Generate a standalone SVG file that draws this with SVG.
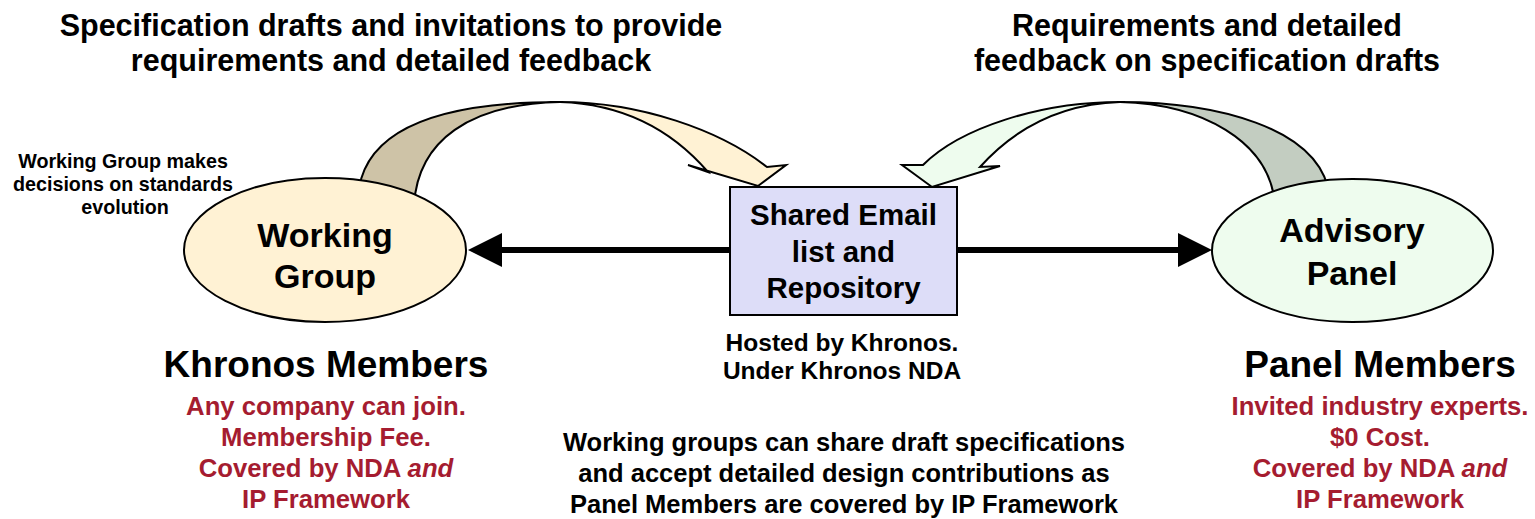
<svg xmlns="http://www.w3.org/2000/svg" width="1535" height="519" viewBox="0 0 1535 519">
<defs>
<style>
text{font-family:"Liberation Sans",Arial,sans-serif;font-weight:bold;text-anchor:middle;fill:#000}
.title{font-size:30.5px}
.note{font-size:19.7px}
.node{font-size:34px}
.box{font-size:29.5px}
.host{font-size:24.5px}
.head{font-size:37px}
.red{font-size:25.7px;fill:#A51C30}
.bottom{font-size:25.5px}
.shape{stroke:#000;stroke-width:2;stroke-linejoin:miter}
.conn{stroke:#000;stroke-width:6;fill:none}
</style>
<marker id="ah" markerUnits="userSpaceOnUse" markerWidth="34" markerHeight="34" refX="12" refY="17" orient="auto">
<path d="M0,0 L34,17 L0,34 Z" fill="#000"/>
</marker>
</defs>
<rect width="1535" height="519" fill="#fff"/>

<g id="titles">
<text class="title" x="391" y="36">Specification drafts and invitations to provide</text>
<text class="title" x="391" y="71">requirements and detailed feedback</text>
<text class="title" x="1207" y="36">Requirements and detailed</text>
<text class="title" x="1207" y="71">feedback on specification drafts</text>
</g>

<g id="connectors">
<g id="curve-left">
<path class="shape" fill="#CEC3A7" d="M358,198 C362,120 460,102 560,102 C470,104 418,140 414,205 Z"/>
<path class="shape" fill="#FFF2D4" d="M560,102 C640,102 720,130 767,167 L786,165 L758,186 L688,165 L708,172 C670,128 620,104 560,102 Z"/>
</g>
<g id="curve-right">
<path class="shape" fill="#C3CDC1" d="M1120,102 C1210,102 1322,125 1330,198 L1275,205 C1270,140 1200,104 1120,102 Z"/>
<path class="shape" fill="#EEFCEE" d="M1120,102 C1040,102 960,128 923,165 L902,165 L932,187 L1000,166 L980,167 C1015,128 1060,104 1120,102 Z"/>
</g>
</g>

<g id="working-group">
<ellipse class="shape" cx="325" cy="250" rx="141" ry="72" fill="#FFF2D4"/>
<text class="node" x="325" y="247">Working</text>
<text class="node" x="325" y="288">Group</text>
</g>

<g id="advisory-panel">
<ellipse class="shape" cx="1352.5" cy="250.5" rx="140.5" ry="71.5" fill="#EEFCEE"/>
<text class="node" x="1352" y="242">Advisory</text>
<text class="node" x="1352" y="285">Panel</text>
</g>

<g id="shared-repo">
<rect class="shape" x="730" y="187" width="227" height="128" fill="#DDDDF8"/>
<text class="box" x="843.5" y="225">Shared Email</text>
<text class="box" x="843.5" y="262">list and</text>
<text class="box" x="843.5" y="298">Repository</text>
</g>

<g id="arrows">
<path class="conn" d="M730,250 L490,250" marker-end="url(#ah)"/>
<path class="conn" d="M957,250 L1190,250" marker-end="url(#ah)"/>
</g>

<g id="notes">
<text class="note" x="123" y="168">Working Group makes</text>
<text class="note" x="123" y="191">decisions on standards</text>
<text class="note" x="125" y="214">evolution</text>

<text class="host" x="842" y="351">Hosted by Khronos.</text>
<text class="host" x="842" y="379">Under Khronos NDA</text>

<text class="head" x="326" y="377">Khronos Members</text>
<text class="red" x="326" y="415">Any company can join.</text>
<text class="red" x="326" y="446">Membership Fee.</text>
<text class="red" x="326" y="477">Covered by NDA <tspan font-style="italic">and</tspan></text>
<text class="red" x="326" y="508">IP Framework</text>

<text class="head" x="1380" y="377">Panel Members</text>
<text class="red" x="1380" y="415">Invited industry experts.</text>
<text class="red" x="1380" y="446">$0 Cost.</text>
<text class="red" x="1380" y="477">Covered by NDA <tspan font-style="italic">and</tspan></text>
<text class="red" x="1380" y="508">IP Framework</text>

<text class="bottom" x="844" y="451">Working groups can share draft specifications</text>
<text class="bottom" x="844" y="482">and accept detailed design contributions as</text>
<text class="bottom" x="844" y="513">Panel Members are covered by IP Framework</text>
</g>
</svg>
